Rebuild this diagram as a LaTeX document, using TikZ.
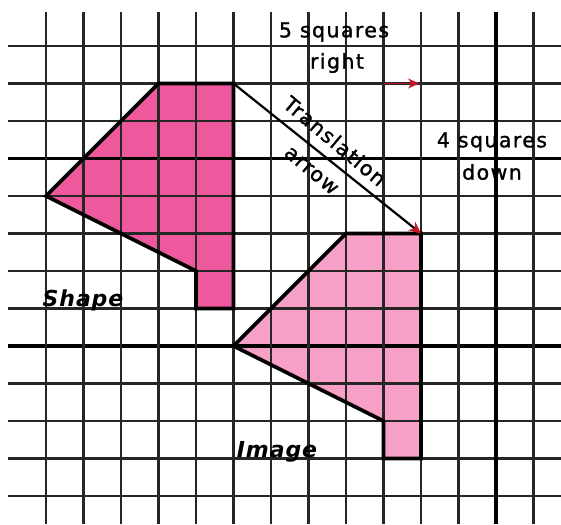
\documentclass[tikz,border=0pt]{standalone}
\usepackage{fontspec}
\setmainfont{DejaVu Sans}
\newfontfamily\lblfont[LetterSpace=7,FakeBold=1.3]{DejaVu Sans}
\newfontfamily\namefont[LetterSpace=4]{DejaVu Sans}
\usetikzlibrary{arrows.meta}
\definecolor{shapefill}{RGB}{238,88,156}
\definecolor{imagefill}{RGB}{246,160,200}
\definecolor{arrowred}{RGB}{200,20,40}
\begin{document}
\begin{tikzpicture}[x=37.5pt,y=-37.5pt,
  gridline/.style={draw=black!85, line width=2.1pt},
  gridthick/.style={draw=black, line width=3.2pt},
  outline/.style={draw=black, line width=3.6pt, line join=miter},
  lbl/.style={font=\lblfont\fontsize{20.5}{22}\selectfont, inner sep=0pt, text=black},
  namelbl/.style={font=\namefont\fontsize{22}{24}\selectfont\bfseries\itshape, inner sep=0pt, text=black},
]
\useasboundingbox (-1.2267,-1.2267) rectangle (13.7333,12.7467);
\fill[white] (-1.2267,-1.2267) rectangle (13.7333,12.7467);
% shape vertices
\coordinate (s1) at (3,1);
\coordinate (s2) at (5,1);
\coordinate (s3) at (5,7);
\coordinate (s4) at (4,7);
\coordinate (s5) at (4,6);
\coordinate (s6) at (0,4);
% image vertices
\coordinate (m1) at (8,5);
\coordinate (m2) at (10,5);
\coordinate (m3) at (10,11);
\coordinate (m4) at (9,11);
\coordinate (m5) at (9,10);
\coordinate (m6) at (5,8);
% fills
\fill[shapefill] (s1) -- (s2) -- (s3) -- (s4) -- (s5) -- (s6) -- cycle;
\fill[imagefill] (m1) -- (m2) -- (m3) -- (m4) -- (m5) -- (m6) -- cycle;
% grid
\foreach \j in {0,1,2,4,5,6,7,9,10,11,12}
  \draw[gridline] (-1.013,\j) -- (13.7333,\j);
\foreach \j in {3,8}
  \draw[gridthick] (-1.013,\j) -- (13.7333,\j);
\foreach \i in {0,...,11,13}
  \draw[gridline] (\i,-0.907) -- (\i,12.7467);
\draw[gridthick] (12,-0.907) -- (12,12.7467);
% outlines
\draw[outline] (s1) -- (s2) -- (s3) -- (s4) -- (s5) -- (s6) -- cycle;
\draw[outline] (m1) -- (m2) -- (m3) -- (m4) -- (m5) -- (m6) -- cycle;
% arrows
\coordinate (rstart) at (9,1);
\coordinate (rend) at (9.95,1);
\draw[arrowred, line width=1.5pt, -{Stealth[length=11pt,width=10pt]}] (rstart) -- (rend);
\draw[black, line width=2.2pt, -{Stealth[arrowred,length=12pt,width=11pt]}] (s2) -- (m2);
% labels
\node[lbl] (t5) at (7.68,-0.373) {5 squares};
\node[lbl] (tr) at (7.76,0.453) {right};
\node[lbl] (t4) at (11.893,2.56) {4 squares};
\node[lbl] (td) at (11.893,3.36) {down};
\node[lbl, rotate=-40] (tt) at (7.707,2.533) {Translation};
\node[lbl, rotate=-40] (ta) at (7.067,3.333) {arrow};
\node[namelbl] (tsh) at (0.987,6.773) {Shape};
\node[namelbl] (tim) at (6.16,10.827) {Image};
\end{tikzpicture}
\end{document}
